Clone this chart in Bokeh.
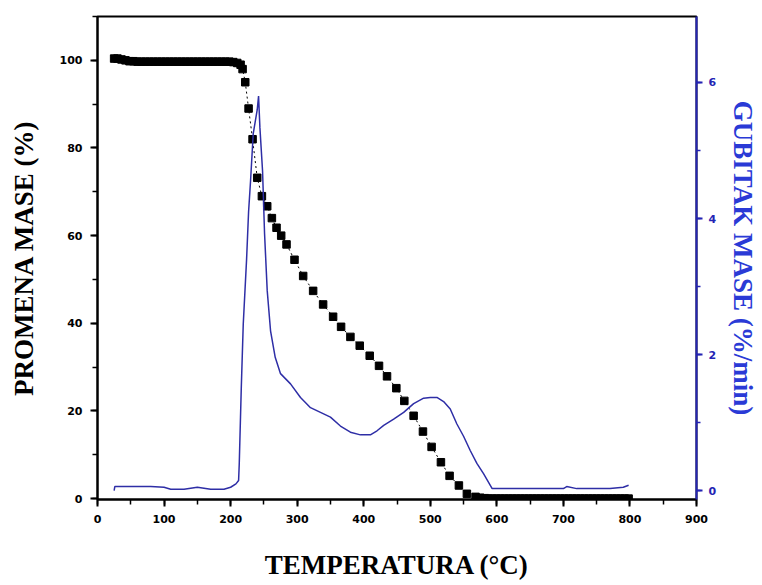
from bokeh.plotting import figure
from bokeh.models import Range1d, LinearAxis, SingleIntervalTicker
from bokeh.embed import file_html
from bokeh.resources import INLINE

# TG curve: mass change (%) vs temperature (C)
tg_temp = [25, 30, 36, 42, 48, 54, 60, 66, 72, 78, 84, 90, 96, 102, 108, 114, 120,
           126, 132, 138, 144, 150, 156, 162, 168, 174, 180, 186, 192, 198, 204, 210, 215,
           218, 222, 227, 233, 240, 247, 255, 262, 269, 276, 284, 296, 309, 324, 339,
           354, 366, 380, 394, 409, 423, 435, 449, 461, 475, 489, 502, 516, 529, 543,
           555, 568, 575, 582, 588, 594, 600, 606, 612, 618, 624, 630, 636, 642, 648,
           654, 660, 666, 672, 678, 684, 690, 696, 702, 708, 714, 720, 726, 732, 738,
           744, 750, 756, 762, 768, 774, 780, 786, 792, 798]
tg_mass = [100.4, 100.4, 100.2, 100.0, 99.8, 99.8, 99.7, 99.7, 99.7, 99.7, 99.7, 99.7,
           99.7, 99.7, 99.7, 99.7, 99.7, 99.7, 99.7, 99.7, 99.7, 99.7, 99.7, 99.7, 99.7,
           99.7, 99.7, 99.7, 99.7, 99.7, 99.6, 99.4, 99.0,
           98.0, 95.0, 89.0, 82.0, 73.2, 69.0, 66.7, 64.0, 61.8, 60.0, 58.0, 54.5, 50.8,
           47.4, 44.3, 41.5, 39.2, 36.9, 34.9, 32.6, 30.3, 27.9, 25.2, 22.3, 18.9, 15.3,
           11.8, 8.3, 5.2, 3.0, 1.1, 0.4, 0.2, 0.1, 0.0, 0.0, 0.0, 0.0, 0.0, 0.0, 0.0,
           0.0, 0.0, 0.0, 0.0, 0.0, 0.0, 0.0, 0.0, 0.0, 0.0, 0.0, 0.0, 0.0, 0.0, 0.0,
           0.0, 0.0, 0.0, 0.0, 0.0, 0.0, 0.0, 0.0, 0.0, 0.0, 0.0, 0.0, 0.0, 0.0]

# DTG curve: mass loss rate (%/min) vs temperature (C)
dtg_temp = [25, 26, 40, 60, 80, 100, 110, 130, 150, 170, 190, 200, 208, 212, 213, 216,
            219, 224, 227, 230, 234, 240, 242, 244, 248, 251, 255, 260, 267, 275, 290,
            305, 320, 335, 350, 365, 380, 395, 410, 420, 430, 445, 460, 475,
            490, 500, 510, 520, 530, 540, 550, 560, 570, 580, 593, 620, 650, 680, 700,
            705, 720, 740, 770, 790, 798]
dtg_rate = [0.00, 0.06, 0.06, 0.06, 0.06, 0.05, 0.02, 0.02, 0.05, 0.02, 0.02, 0.05,
            0.10, 0.15, 0.40, 1.50, 2.45, 3.40, 4.10, 4.56, 5.25, 5.60, 5.80, 5.34, 4.70,
            3.78, 2.94, 2.35, 1.96, 1.72, 1.57,
            1.37, 1.22, 1.15, 1.08, 0.95, 0.86, 0.82, 0.82, 0.88, 0.96, 1.05, 1.15, 1.28,
            1.36, 1.37, 1.37, 1.31, 1.20, 0.98, 0.80, 0.59, 0.40, 0.25, 0.03, 0.03, 0.03,
            0.03, 0.03, 0.06, 0.03, 0.03, 0.03, 0.05, 0.08]

x_ticks_interval = 100
left_ticks_interval = 20
right_ticks_interval = 2

BLUE_LINE = "#2e2ea6"
BLUE_AXIS = "#2424b4"
BLUE_LABEL = "#2a3ad6"

p = figure(width=762, height=585, output_backend="svg", toolbar_location=None,
           x_range=Range1d(0, 900), y_range=Range1d(-0.2, 110),
           min_border_left=97, min_border_right=66, min_border_top=16,
           min_border_bottom=86)
p.extra_y_ranges = {"dtg": Range1d(-0.13, 6.97)}
p.grid.visible = False
p.outline_line_color = "black"
p.outline_line_width = 2
p.background_fill_color = "white"
p.border_fill_color = "white"

tick_font = "DejaVu Sans"
label_font = "Liberation Serif"
label_size = "27px"

xa = p.xaxis[0]
xa.ticker = SingleIntervalTicker(interval=x_ticks_interval, num_minor_ticks=2)
xa.axis_label = "TEMPERATURA (°C)"
ya = p.yaxis[0]
ya.ticker = SingleIntervalTicker(interval=left_ticks_interval, num_minor_ticks=2)
ya.axis_label = "PROMENA MASE (%)"

for ax in (xa, ya):
    ax.axis_line_width = 2
    ax.axis_line_color = "black"
    ax.major_tick_line_width = 2
    ax.minor_tick_line_width = 1.5
    ax.major_tick_in = 0
    ax.major_tick_out = 7
    ax.minor_tick_in = 0
    ax.minor_tick_out = 5
    ax.major_label_text_font = tick_font
    ax.major_label_text_font_size = "11px"
    ax.major_label_text_font_style = "bold"
    ax.major_label_text_color = "black"
    ax.major_label_standoff = 8
    ax.axis_label_text_font = label_font
    ax.axis_label_text_font_style = "bold"
    ax.axis_label_text_font_size = label_size
    ax.axis_label_text_color = "black"
xa.axis_label_standoff = 24
ya.axis_label_standoff = 18

ra = LinearAxis(y_range_name="dtg",
                ticker=SingleIntervalTicker(interval=right_ticks_interval, num_minor_ticks=2),
                axis_label="GUBITAK MASE (%/min)")
ra.axis_line_width = 2
ra.axis_line_color = BLUE_AXIS
ra.major_tick_line_color = BLUE_AXIS
ra.minor_tick_line_color = BLUE_AXIS
ra.major_tick_line_width = 2
ra.minor_tick_line_width = 1.5
ra.major_tick_in = 0
ra.major_tick_out = 6
ra.minor_tick_in = 0
ra.minor_tick_out = 4
ra.major_label_text_font = tick_font
ra.major_label_text_font_size = "11px"
ra.major_label_text_font_style = "bold"
ra.major_label_text_color = BLUE_AXIS
ra.major_label_standoff = 6
ra.axis_label_text_font = label_font
ra.axis_label_text_font_style = "bold"
ra.axis_label_text_font_size = label_size
ra.axis_label_text_color = BLUE_LABEL
ra.axis_label_standoff = 9
p.add_layout(ra, "right")

# TG curve
p.line(tg_temp, tg_mass, line_color="black", line_width=1, line_dash="2 3")
p.scatter(tg_temp, tg_mass, marker="square", size=7.5, fill_color="black",
          line_color="black")

# DTG curve
p.line(dtg_temp, dtg_rate, y_range_name="dtg", line_color=BLUE_LINE, line_width=1.5)

open("out.html", "w").write(file_html(p, INLINE))
